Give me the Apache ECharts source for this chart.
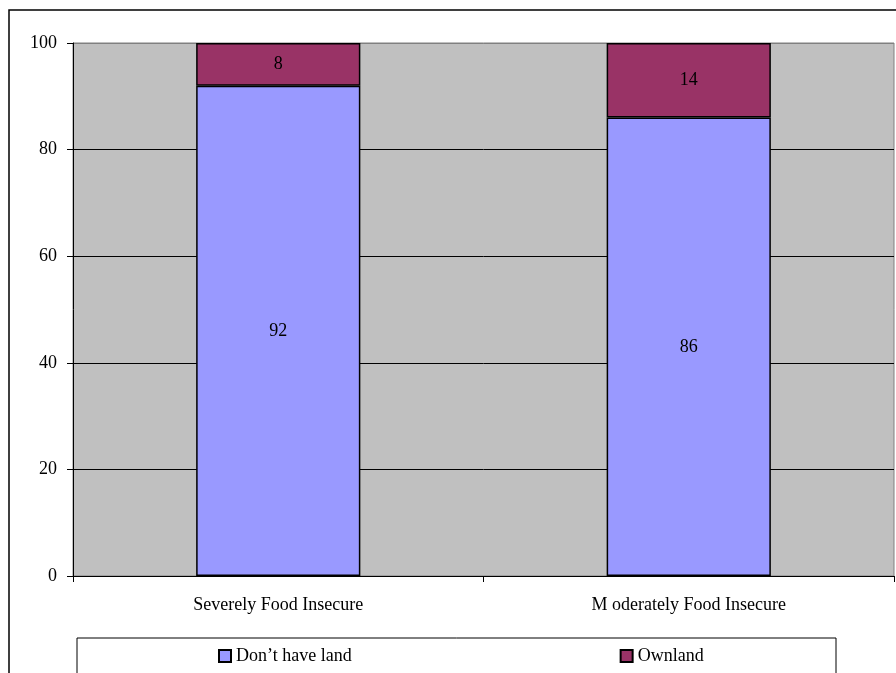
<!DOCTYPE html>
<html>
<head>
<meta charset="utf-8">
<style>
  html, body { margin: 0; padding: 0; background: #ffffff; }
  #chart { width: 896px; height: 673px; }
</style>
<script src="https://cdn.jsdelivr.net/npm/echarts@6/dist/echarts.min.js"></script>
</head>
<body>
<div id="chart"></div>
<script>
// Land ownership by food insecurity level (percent)
const categories = ['Severely Food Insecure', 'M oderately Food Insecure'];
const noLand = [92, 86];
const ownLand = [8, 14];
const seriesNames = ["Don\u2019t have land", 'Ownland'];
const yTicks = [0, 20, 40, 60, 80, 100];

const FONT = '"Liberation Serif", "Times New Roman", serif';

const chart = echarts.init(document.getElementById('chart'), null, { renderer: 'canvas' });

const barLabel = {
  show: true,
  position: 'inside',
  color: '#000',
  fontFamily: FONT,
  fontSize: 18
};

chart.setOption({
  animation: false,
  backgroundColor: '#ffffff',
  textStyle: { fontFamily: FONT },
  graphic: [
    // outer chart frame
    { type: 'rect', shape: { x: 9, y: 10, width: 900, height: 700 },
      style: { fill: 'none', stroke: '#000', lineWidth: 1.5 }, z: -1 },
    // legend frame
    { type: 'rect', shape: { x: 77, y: 638, width: 759, height: 60 },
      style: { fill: '#fff', stroke: '#000', lineWidth: 1 }, z: 0 }
  ],
  grid: {
    left: 73, right: 2, top: 43, bottom: 97,
    show: true, backgroundColor: '#C0C0C0', borderColor: '#808080', borderWidth: 1
  },
  legend: {
    left: 213, top: 642,
    itemWidth: 12, itemHeight: 12, itemGap: 268,
    icon: 'rect',
    textStyle: { fontFamily: FONT, fontSize: 18, color: '#000' },
    data: seriesNames,
    z: 5
  },
  xAxis: {
    type: 'category',
    data: categories,
    axisLine: { show: true, lineStyle: { color: '#000', width: 1 } },
    axisTick: { show: true, alignWithLabel: false, length: 6, lineStyle: { color: '#000' } },
    axisLabel: { color: '#000', fontFamily: FONT, fontSize: 18, margin: 20 },
    splitLine: { show: false }
  },
  yAxis: {
    type: 'value',
    min: yTicks[0], max: yTicks[yTicks.length - 1], interval: 20,
    axisLine: { show: true, lineStyle: { color: '#000', width: 1 } },
    axisTick: { show: true, length: 6, lineStyle: { color: '#000' } },
    axisLabel: { color: '#000', fontFamily: FONT, fontSize: 18, margin: 16 },
    splitLine: { show: true, lineStyle: { color: ['#000', '#000', '#000', '#000', '#000', '#808080'], width: 1 } }
  },
  series: [
    {
      name: seriesNames[0], type: 'bar', stack: 'land',
      data: noLand, barWidth: '40%',
      itemStyle: { color: '#9999FF', borderColor: '#000', borderWidth: 1.5 },
      label: barLabel
    },
    {
      name: seriesNames[1], type: 'bar', stack: 'land',
      data: ownLand, barWidth: '40%',
      itemStyle: { color: '#993366', borderColor: '#000', borderWidth: 1.5 },
      label: barLabel
    }
  ]
});
</script>
</body>
</html>
